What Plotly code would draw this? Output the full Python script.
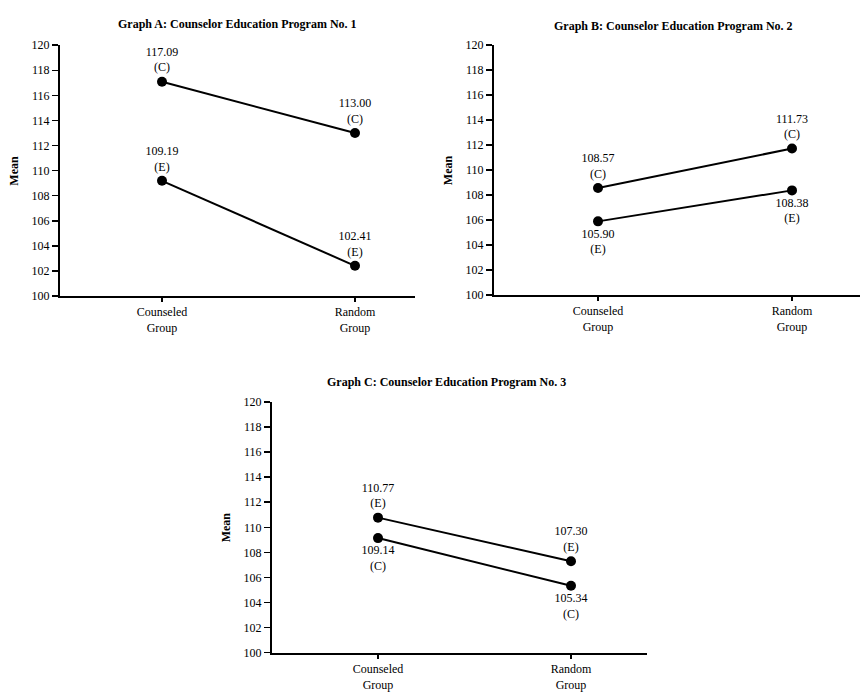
import plotly.graph_objects as go

W, H = 862, 695

groups = ["Counseled<br>Group", "Random<br>Group"]
xpos = [0, 1]

titles = [
    "Graph A: Counselor Education Program No. 1",
    "Graph B: Counselor Education Program No. 2",
    "Graph C: Counselor Education Program No. 3",
]

a_c = [117.09, 113.00]
a_e = [109.19, 102.41]
b_c = [108.57, 111.73]
b_e = [105.90, 108.38]
c_e = [110.77, 107.30]
c_c = [109.14, 105.34]

yticks = list(range(100, 121, 2))

FONT = "Liberation Serif, Times New Roman, serif"

# pixel geometry for each panel: (left, right, top_of_120, bottom_of_100, x_of_counseled, x_of_random)
panels = [
    (60, 415, 39, 295, 162, 355),
    (494, 860, 39, 294, 598, 792),
    (272, 647, 403, 659, 378, 571),
]

series = [
    [(a_c, "C", "top center"), (a_e, "E", "top center")],
    [(b_c, "C", "top center"), (b_e, "E", "bottom center")],
    [(c_e, "E", "top center"), (c_c, "C", "bottom center")],
]

title_pos = [(238, 17), (673, 19), (446, 383)]

fig = go.Figure()
annotations = []

for i, (geo, ser) in enumerate(zip(panels, series)):
    left, right, top, bottom, xc, xr = geo
    unit = xr - xc
    xrange = [(left - xc) / unit, (right - xc) / unit]
    suffix = "" if i == 0 else str(i + 1)
    xa = "x" + suffix
    ya = "y" + suffix
    for vals, tag, pos in ser:
        fig.add_trace(go.Scatter(
            x=xpos, y=vals, xaxis=xa, yaxis=ya,
            mode="lines+markers+text",
            line=dict(color="black", width=2),
            marker=dict(color="black", size=10),
            text=[f"{v:.2f}<br>({tag})" for v in vals],
            textposition=pos,
            textfont=dict(family=FONT, size=12, color="black"),
            showlegend=False, cliponaxis=False,
        ))
    fig.layout["xaxis" + suffix] = dict(
        domain=[left / W, right / W], anchor=ya, range=xrange,
        tickvals=xpos, ticktext=groups, ticks="outside", ticklen=4,
        tickwidth=1.5, tickcolor="black",
        showline=True, linecolor="black", linewidth=2,
        showgrid=False, zeroline=False,
        tickfont=dict(family=FONT, size=12, color="black"),
        fixedrange=True,
    )
    fig.layout["yaxis" + suffix] = dict(
        domain=[(H - bottom) / H, (H - top) / H], anchor=xa, range=[100, 120],
        tickvals=yticks, ticks="outside", ticklen=6, tickwidth=1.5,
        tickcolor="black",
        showline=True, linecolor="black", linewidth=2,
        showgrid=False, zeroline=False,
        tickfont=dict(family=FONT, size=12, color="black"),
        fixedrange=True,
    )
    tx, ty = title_pos[i]
    annotations.append(dict(
        text="<b>" + titles[i] + "</b>", x=tx / W, y=1 - ty / H,
        xref="paper", yref="paper", showarrow=False,
        xanchor="center", yanchor="middle",
        font=dict(family=FONT, size=12, color="black"),
    ))
    annotations.append(dict(
        text="<b>Mean</b>", x=(left - 46) / W, y=1 - ((top + bottom) / 2) / H,
        xref="paper", yref="paper", showarrow=False, textangle=-90,
        xanchor="center", yanchor="middle",
        font=dict(family=FONT, size=12, color="black"),
    ))

fig.update_layout(
    width=W, height=H,
    margin=dict(l=0, r=0, t=0, b=0),
    paper_bgcolor="white", plot_bgcolor="white",
    annotations=annotations,
    hovermode=False,
)

fig.write_html(
    "out.html",
    config={"displayModeBar": False, "staticPlot": True},
    post_script="document.body.style.margin='0';document.body.style.overflow='hidden';",
)
